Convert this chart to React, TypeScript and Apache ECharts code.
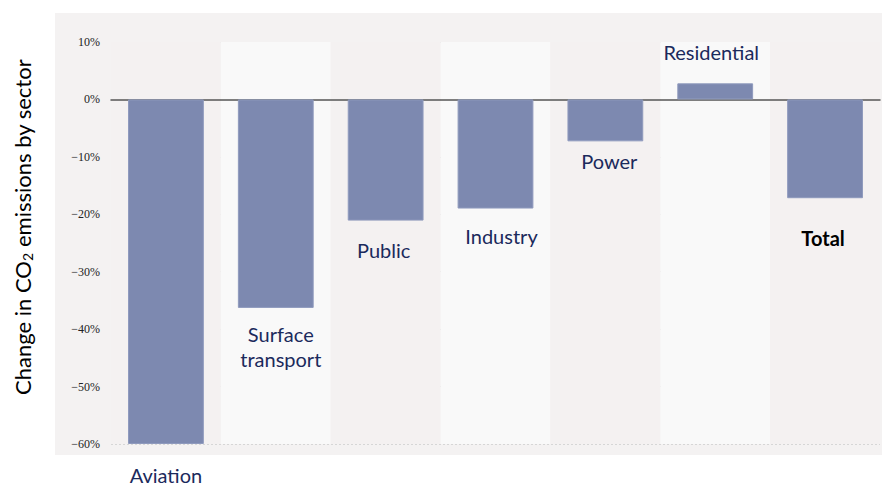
import React, { useEffect, useRef } from "react";
import * as echarts from "echarts";

const categories = ["Aviation", "Surface\ntransport", "Public", "Industry", "Power", "Residential", "Total"];
const values = [-60, -36.3, -21.1, -19.0, -7.3, 2.8, -17.2];
const yTicks = { min: -60, max: 10, step: 10 };

// label placement (layout only)
const labelDistance = [21, 14, 17, 15, 7, 19, 27];
const labelShiftX = [0, 5, -2, 6, 4, -4, -2];
const labelLineHeight = [20, 25, 25, 25, 25, 25, 25];

export default function App() {
  const ref = useRef<HTMLDivElement>(null);
  useEffect(() => {
    if (!ref.current) return;
    const chart = echarts.init(ref.current, null, { renderer: "svg" });
    const data = values.map((v, i) => ({
      value: v,
      label: {
        show: true,
        position: v >= 0 ? "top" : "bottom",
        distance: labelDistance[i],
        offset: [labelShiftX[i], 0],
        formatter: categories[i],
        fontFamily: "Lato",
        fontSize: 20,
        lineHeight: labelLineHeight[i],
        color: i === categories.length - 1 ? "#000000" : "#1b2a5c",
        fontWeight: i === categories.length - 1 ? "bold" : "normal",
      },
    }));
    chart.setOption({
      animation: false,
      backgroundColor: "#ffffff",
      grid: { left: 111, right: 11, top: 42, bottom: 46 },
      graphic: [
        {
          type: "rect",
          z: -10,
          silent: true,
          shape: { x: 55, y: 13, width: 827, height: 442 },
          style: { fill: "#f4f2f2" },
        },
        {
          type: "text",
          x: 22,
          y: 227,
          rotation: Math.PI / 2,
          style: {
            text: "Change in CO{s|2} emissions by sector",
            fontFamily: "Lato",
            fontSize: 22,
            fill: "#000000",
            align: "center",
            verticalAlign: "middle",
            rich: {
              s: { fontFamily: "Lato", fontSize: 14, fill: "#000000", padding: [10, 0, 0, 0] },
            },
          },
        },
      ],
      xAxis: {
        type: "category",
        data: categories,
        axisLine: { show: true, onZero: true, lineStyle: { color: "#555555", width: 1.5 } },
        axisTick: { show: false },
        axisLabel: { show: false },
        splitArea: { show: true, areaStyle: { color: ["#f4f1f1", "#f9f9f9"] } },
      },
      yAxis: {
        type: "value",
        min: yTicks.min,
        max: yTicks.max,
        interval: yTicks.step,
        axisLine: { show: false },
        axisTick: { show: false },
        axisLabel: {
          margin: 11,
          fontFamily: "Liberation Serif",
          fontSize: 12,
          color: "#222222",
          formatter: (v: number) => (v < 0 ? "\u2212" + Math.abs(v) + "%" : v + "%"),
        },
        splitLine: { lineStyle: { color: "#d6d6d6", type: [2, 2], width: 1 } },
      },
      series: [
        {
          type: "bar",
          data,
          barWidth: "69%",
          itemStyle: { color: "#7d89b0", borderColor: "#8f9abd", borderWidth: 1 },
        },
      ],
    });
    return () => chart.dispose();
  }, []);
  return <div ref={ref} style={{ position: "fixed", left: 0, top: 0, width: 891, height: 490 }} />;
}
